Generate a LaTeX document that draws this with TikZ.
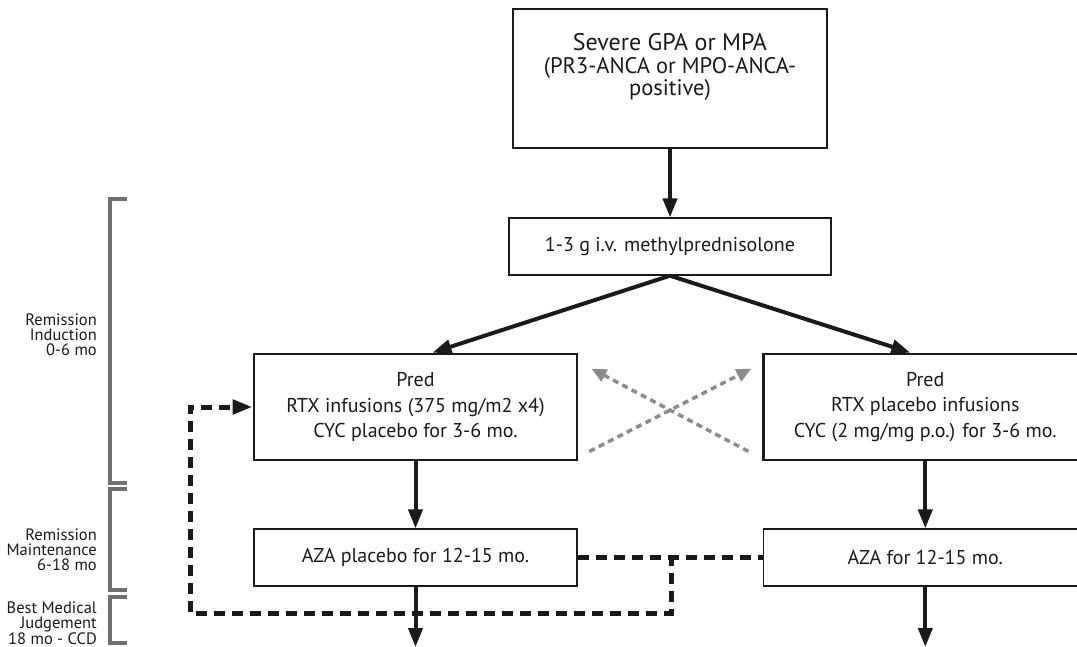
\documentclass[tikz,border=0pt]{standalone}
\usepackage{fontspec}
\setmainfont{PT Sans}
\usepackage{xcolor}
\usetikzlibrary{arrows.meta, positioning}

\definecolor{inkblack}{HTML}{1A1A1A}
\definecolor{phasegray}{HTML}{707070}
\definecolor{swapgray}{HTML}{8C8C8C}

\begin{document}
\begin{tikzpicture}[x=1pt, y=-1pt, node distance=67pt, inkblack,
	box/.style={draw, rectangle, line width=2.8pt, minimum width=323pt, minimum height=106pt, inner sep=0pt, align=center, font=\fontsize{20}{25.5}\selectfont},
	thinbox/.style={draw, rectangle, line width=1.3pt, minimum width=323pt, minimum height=57pt, inner sep=0pt, align=center, font=\fontsize{20}{25}\selectfont},
	flow/.style={line width=4pt, -{Triangle[length=19pt, width=14pt]}},
	swap/.style={swapgray, line width=3.5pt, dash pattern=on 6pt off 4.5pt, -{Triangle[length=15pt, width=13pt]}},
	rescue/.style={line width=5pt, dash pattern=on 11pt off 7pt, -{Triangle[length=20pt, width=14pt]}},
	phase/.style={phasegray, line width=4pt},
	phaselabel/.style={anchor=east, align=right, inner sep=0pt, font=\fontsize{16.5}{15}\selectfont}]
	\useasboundingbox (0,0) rectangle (1077,647);
	\clip (0,0) rectangle (1077,647);

	% boxes
	\node[draw, rectangle, line width=2.8pt, minimum width=314pt, minimum height=139pt] (top) at (670,78.5) {};
	\node[align=center, font=\fontsize{22.5}{22.5}\selectfont] (topTxt) at (670,67) {{\fontsize{24}{24}\selectfont Severe GPA or MPA}\\(PR3-ANCA or MPO-ANCA-\\positive)};
	\node[thinbox, minimum width=322pt, below=68pt of top] (meth) {1-3 g i.v. methylprednisolone};
	\node[box] (predL) at (415.5,407) {Pred\\RTX infusions (375 mg/m2 x4)\\CYC placebo for 3-6 mo.};
	\node[box, right=184pt of predL] (predR) {Pred\\RTX placebo infusions\\CYC (2 mg/mg p.o.) for 3-6 mo.};
	\node[thinbox, below=of predL] (azaL) {AZA placebo for 12-15 mo.};
	\node[thinbox, below=of predR] (azaR) {AZA for 12-15 mo.};

	\coordinate (outL) at (azaL.south |- 0,647);
	\coordinate (outR) at (azaR.south |- 0,647);
	\coordinate (jn) at (671,555);

	% main flow
	\draw[flow] (top) -- (meth);
	\draw[flow] (meth.south) -- ([xshift=17pt]predL.north);
	\draw[flow] (meth.south) -- ([xshift=-15pt]predR.north);
	\draw[flow] (predL) -- (azaL);
	\draw[flow] (predR) -- (azaR);
	\draw[flow] (azaL) -- (outL);
	\draw[flow] (azaR) -- (outR);

	% crossover
	\draw[swap] ([xshift=-14pt, yshift=10pt]predR.south west) -- ([xshift=13pt, yshift=-16pt]predL.north east);
	\draw[swap] ([xshift=11pt, yshift=10pt]predL.south east) -- ([xshift=-11pt, yshift=-16pt]predR.north west);

	% rescue path
	\draw[rescue, -] (azaL.east) -- (azaR.west);
	\draw[rescue] (jn) |- (190,613) |- (predL.west);

	% phases
	\draw[phase] (127,199) -- (110,199) -- (110,483) -- (127,483);
	\draw[phase] (127,489) -- (110,489) -- (110,590) -- (127,590);
	\draw[phase] (127,597) -- (110,597) -- (110,643) -- (127,643);
	\node[phaselabel] (ind) at (97,335) {Remission\\Induction\\0-6 mo};
	\node[phaselabel] (maint) at (97,550) {Remission\\Maintenance\\6-18 mo};
	\node[phaselabel] (best) at (97,623) {Best Medical\\Judgement\\18 mo - CCD};
\end{tikzpicture}
\end{document}
